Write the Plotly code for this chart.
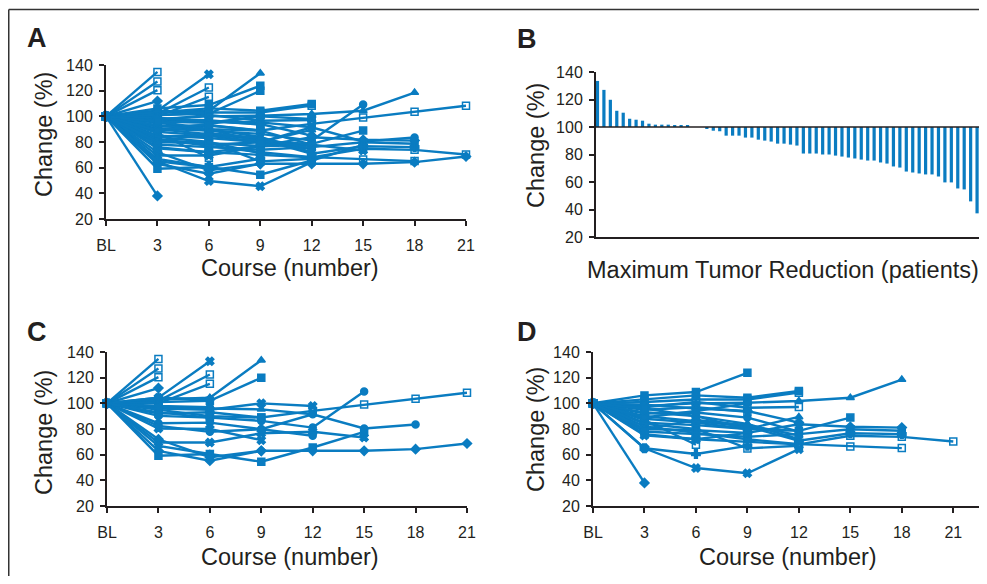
import plotly.graph_objects as go

# ---------------- data ----------------
courses = ["BL", "3", "6", "9", "12", "15", "18", "21"]

# Panel B: maximum tumour reduction per patient (% of baseline), sorted
max_reduction = [133.5, 127, 119.8, 111.8, 110.4, 106, 105.3, 104.6, 102.4, 101.7,
                 101.7, 101.7, 101, 101, 101, 100, 100, 98.8, 97.3, 96.9,
                 93.7, 93.7, 93.7, 92.3, 92.3, 90.8, 90.1, 89.4, 87.9, 87.9,
                 87.2, 86.5, 80.7, 80.7, 80.7, 80, 80, 79.2, 78.5, 77.8,
                 77.1, 76.3, 75.6, 75.6, 74.2, 73.4, 71.3, 70.5, 67.6, 66.9,
                 66.2, 65.5, 65.5, 64, 59.7, 59.7, 55.3, 54.6, 45.9, 37.2]

# Panel C: per-patient change (%) by course (BL, 3, 6, ...)
group_c = [
    [100, 134.6], [100, 127.1], [100, 120.4], [100, 111.9],
    [100, 104.4, 132.8], [100, 102, 122.5], [100, 100, 115.2],
    [100, 103, 104.4, 133.6], [100, 101, 102, 119.9],
    [100, 96, 95, 100, 97.9],
    [100, 92, 93, 89, 94.1, 99, 103.6, 108.3],
    [100, 90.2, 88.9, 86.3, 81.1, 109.3],
    [100, 84.5, 85, 79.8, 91.5, 80.4, 83.5],
    [100, 63, 55.3, 63, 63, 63, 64.3, 68.7],
    [100, 59.2, 60.5, 54.5, 65.6, 77.8],
    [100, 69.5, 69.5, 76.7, 77.8, 73.4],
    [100, 82.4, 77.8, 79.8, 74.7], [100, 97, 96, 95.3, 91.5],
    [100, 80.4, 80, 71.3], [100, 72, 58, 63], [100, 66.9, 60.5],
    [100, 95, 90, 88.9], [100, 98, 97], [100, 93, 88.9], [100, 104.4, 103],
]

# Panel D: per-patient change (%) by course
group_d = [
    [100, 38], [100, 65, 49.6, 45.5, 64.3],
    [100, 76, 72, 70, 68, 74.7, 73.9, 70.3], [100, 65, 60.5, 66.9],
    [100, 106.2, 108.8, 123.8], [100, 103, 106.2, 104.4, 109.6],
    [100, 101, 103, 103, 108.3], [100, 98, 100, 100.5, 101.8, 104.4, 118.5],
    [100, 97, 101, 96.6, 97.2], [100, 95, 97, 93.5], [100, 88, 85, 80, 89.4],
    [100, 85, 83, 80, 78.6, 88.9], [100, 80, 79, 77, 83.7, 81.7, 81.1],
    [100, 78, 76, 74, 76, 79.8, 78.6], [100, 82, 77, 72, 68.2, 66.4, 65.1],
    [100, 90, 86, 82, 70.8, 76.7, 76], [100, 87, 67.7], [100, 84, 80, 64.9, 67],
    [100, 92, 92.8, 88.9, 78], [100, 93, 90, 84, 72], [100, 99, 96, 94, 85],
    [100, 89, 94, 100], [100, 75, 72, 77], [100, 96, 90, 80], [100, 80, 87, 83, 75],
]

# Panel A: all patients
group_all = group_c + group_d

# ---------------- style ----------------
BLUE = "#0a7cc1"
INK = "#231f20"
FONT = "Liberation Sans, Arial, sans-serif"
OFF = 8                      # page body margin
W, H = 987 - 2 * OFF, 584 - 2 * OFF

symbols_c = ["square-open", "square-open", "square-open", "diamond", "x", "square-open",
             "square-open", "triangle-up", "square", "x", "square-open", "circle", "circle",
             "diamond", "square", "x", "circle", "triangle-up", "x", "diamond",
             "triangle-up", "square", "circle", "square-open", "diamond"]
symbols_d = ["diamond", "x", "square-open", "cross", "square", "square", "square-open",
             "triangle-up", "square-open", "square-open", "triangle-up", "square", "diamond",
             "square", "square-open", "cross", "square-open", "square-open", "circle",
             "triangle-up", "diamond", "circle", "x", "square", "triangle-up"]


def fx(p):
    return min(1.0, max(0.0, (p - OFF) / W))


def fy(p):
    return min(1.0, max(0.0, 1 - (p - OFF) / H))


fig = go.Figure()


def add_lines(series, syms, xa, ya):
    for vals, sym in zip(series, syms):
        fig.add_trace(go.Scatter(
            x=list(range(len(vals))), y=vals, xaxis=xa, yaxis=ya,
            mode="lines+markers", line=dict(color=BLUE, width=2.4),
            marker=dict(symbol=sym, size=7, color=BLUE, line=dict(color=BLUE, width=1.5)),
            cliponaxis=False, showlegend=False, hoverinfo="skip"))


add_lines(group_all, symbols_c + symbols_d, "x", "y")
add_lines(group_c, symbols_c, "x3", "y3")
add_lines(group_d, symbols_d, "x4", "y4")

patients = list(range(1, len(max_reduction) + 1))
fig.add_trace(go.Bar(
    x=patients, y=[v - 100 for v in max_reduction], base=100,
    xaxis="x2", yaxis="y2", marker=dict(color=BLUE, line=dict(width=0)),
    width=0.5, showlegend=False, hoverinfo="skip"))

axis_common = dict(showline=True, linecolor=INK, linewidth=2, ticks="outside",
                   ticklen=5, tickwidth=1.5, tickcolor=INK, showgrid=False,
                   zeroline=False, tickfont=dict(family=FONT, size=16, color=INK),
                   fixedrange=True, automargin=False)
yaxis_common = dict(axis_common, range=[20, 140], tickvals=[20, 40, 60, 80, 100, 120, 140],
                    ticklabelstandoff=3)

panels = {
    "": dict(x=(106, 466), y=(65, 219), xr=[0, 7]),
    "3": dict(x=(107, 467), y=(352, 506), xr=[0, 7]),
    "4": dict(x=(593, 979), y=(352, 506), xr=[0, 7.5]),
}
layout = {}
for k, p in panels.items():
    layout["xaxis" + k] = dict(axis_common, domain=[fx(p["x"][0]), fx(p["x"][1])],
                               range=p["xr"], tickvals=list(range(8)), ticktext=courses,
                               anchor="y" + k, ticklabelstandoff=6)
    layout["yaxis" + k] = dict(yaxis_common, domain=[fy(p["y"][1]), fy(p["y"][0])],
                               anchor="x" + k)
layout["xaxis2"] = dict(axis_common, domain=[fx(596), fx(979)], range=[0.77, 60.3],
                        ticks="", showticklabels=False, anchor="y2")
layout["yaxis2"] = dict(yaxis_common, domain=[fy(237), fy(72)], anchor="x2")

annotations = []
for letter, cx, cy in [("A", 37, 38), ("B", 527, 39), ("C", 37, 332), ("D", 527, 332)]:
    annotations.append(dict(text="<b>%s</b>" % letter, x=fx(cx), y=fy(cy), xref="paper",
                            yref="paper", showarrow=False, xanchor="center", yanchor="middle",
                            font=dict(family=FONT, size=27, color=INK)))
for text, cx, cy, ang in [("Change (%)", 44, 135, -90), ("Course (number)", 290, 268, 0),
                          ("Change (%)", 536, 146, -90),
                          ("Maximum Tumor Reduction (patients)", 783, 270, 0),
                          ("Change (%)", 44, 433, -90), ("Course (number)", 290, 557, 0),
                          ("Change (%)", 536, 430, -90), ("Course (number)", 788, 557, 0)]:
    annotations.append(dict(text=text, x=fx(cx), y=fy(cy), xref="paper", yref="paper",
                            showarrow=False, xanchor="center", yanchor="middle",
                            textangle=ang, font=dict(family=FONT, size=23.5, color=INK)))

shapes = [
    dict(type="line", xref="x2 domain", yref="y2", x0=0, x1=1, y0=100, y1=100,
         line=dict(color=INK, width=1.5)),
    dict(type="line", xref="paper", yref="paper", x0=fx(8.75), x1=1, y0=fy(9.5), y1=fy(9.5),
         line=dict(color="#333333", width=1.5)),
    dict(type="line", xref="paper", yref="paper", x0=fx(8.75), x1=fx(8.75), y0=0, y1=fy(9.5),
         line=dict(color="#333333", width=1.5)),
]

fig.update_layout(width=W, height=H, margin=dict(l=0, r=0, t=0, b=0, pad=0),
                  paper_bgcolor="white", plot_bgcolor="white",
                  annotations=annotations, shapes=shapes, **layout)

fig.write_html("out.html", config={"displayModeBar": False})
